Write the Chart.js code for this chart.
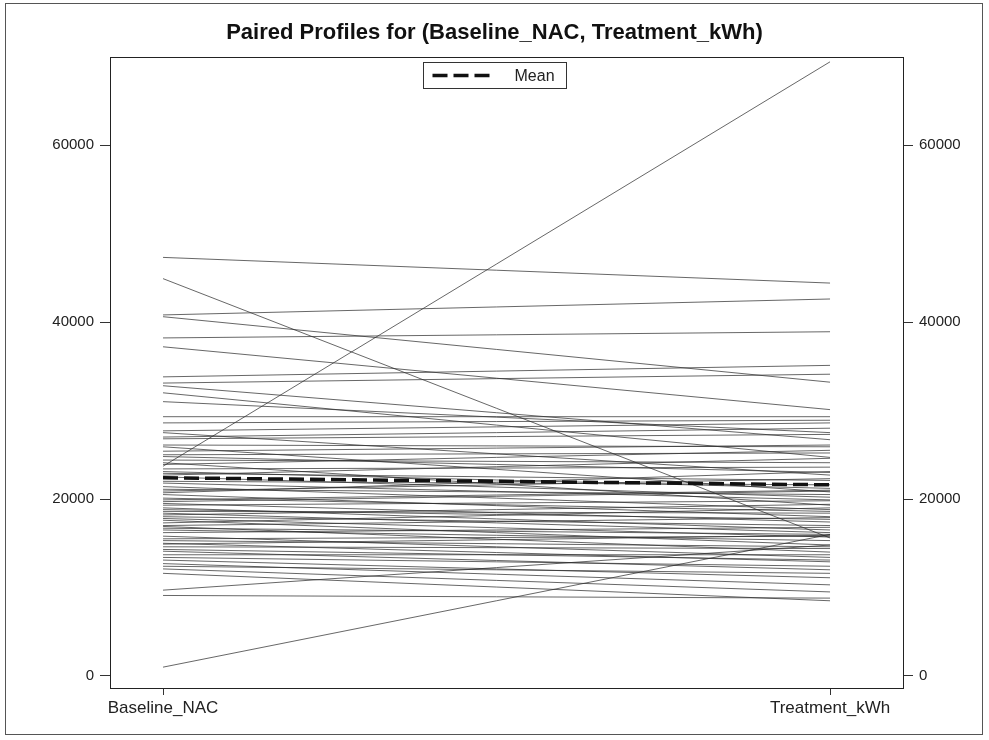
<!DOCTYPE html>
<html>
<head>
<meta charset="utf-8">
<title>Paired Profiles</title>
<script src="https://cdn.jsdelivr.net/npm/chart.js@4.4.1/dist/chart.umd.min.js"></script>
<style>
  html, body { margin: 0; padding: 0; background: #ffffff; }
  #wrap { width: 989px; height: 740px; }
</style>
</head>
<body>
<div id="wrap"><canvas id="c" width="989" height="740"></canvas></div>
<script>
// Paired profile categories (x positions 0 and 1)
const categories = ['Baseline_NAC', 'Treatment_kWh'];

// One subject per index: value at baseline and at treatment
const baselineValues = [
  47300, 44900, 40800, 40600, 38200, 37200, 33800, 33100, 32800, 32000,
  31000, 29300, 28600, 27700, 27500, 27000, 26100, 25900, 25400, 25000,
  24400, 24100, 23700, 23400, 22900, 22500, 22000, 21400, 20900, 20500,
  19900, 19500, 19300, 19000, 18600, 18400, 18000, 17600, 17300, 16900,
  16500, 16200, 15800, 15500, 15000, 14600, 14100, 13700, 13100, 12700,
  12100, 9700, 9100, 1000, 11600,
  26800, 24800, 23900, 23100, 22700, 21800, 21100, 20700, 20100, 19700,
  18800, 18200, 17800, 17000, 16700, 15300, 14900, 14300, 13400, 12400
];
const treatmentValues = [
  44400, 15600, 42600, 33200, 38900, 30100, 35100, 34100, 26700, 24700,
  27500, 29300, 28900, 28600, 22700, 28000, 25900, 20800, 26100, 25200,
  24100, 19300, 69400, 23600, 22100, 20200, 21600, 18800, 22300, 18000,
  21000, 17400, 19800, 16500, 18400, 16200, 17000, 14800, 19000, 14000,
  15300, 16800, 13400, 15800, 12900, 14400, 12000, 13700, 11100, 10300,
  9500, 14800, 8800, 16000, 8500,
  27300, 23000, 25500, 21200, 24600, 19900, 20500, 23100, 18600, 20900,
  17700, 19400, 15700, 17900, 16000, 14600, 15900, 13100, 12400, 11600
];

// Group means at baseline and treatment
const meanValues = [22400, 21600];

// Tick values shared by the left and right value axes
const yTicks = [0, 20000, 40000, 60000];

const FONT = '"Liberation Sans", Arial, sans-serif';

const datasets = [];
datasets.push({
  label: 'Mean',
  data: categories.map((c, i) => ({ x: i, y: meanValues[i] })),
  borderColor: '#111111',
  borderWidth: 3.5,
  borderDash: [15, 6],
  pointRadius: 0,
  fill: false
});
baselineValues.forEach((b, i) => {
  datasets.push({
    label: 'Subject ' + (i + 1),
    data: [{ x: 0, y: b }, { x: 1, y: treatmentValues[i] }],
    borderColor: 'rgba(45,45,45,0.72)',
    borderWidth: 1,
    pointRadius: 0,
    fill: false
  });
});

// Outer frame, plot box and the boxed "Mean" legend
const decorations = {
  id: 'decorations',
  beforeDraw(chart) {
    const ctx = chart.ctx;
    ctx.save();
    ctx.fillStyle = '#ffffff';
    ctx.fillRect(0, 0, chart.width, chart.height);
    ctx.restore();
  },
  afterDraw(chart) {
    const ctx = chart.ctx;
    const a = chart.chartArea;
    ctx.save();
    ctx.strokeStyle = '#555555';
    ctx.lineWidth = 1;
    ctx.strokeRect(5.5, 3.5, 977, 731);
    ctx.strokeStyle = '#222222';
    ctx.strokeRect(Math.round(a.left) + 0.5, Math.round(a.top) + 0.5,
                   Math.round(a.right - a.left), Math.round(a.bottom - a.top));

    // legend box centred at the top of the plot area
    const bw = 143, bh = 26;
    const bx = Math.round((a.left + a.right) / 2 - bw / 2 - 12) + 0.5;
    const by = Math.round(a.top + 5) + 0.5;
    ctx.fillStyle = '#ffffff';
    ctx.fillRect(bx, by, bw, bh);
    ctx.strokeStyle = '#333333';
    ctx.strokeRect(bx, by, bw, bh);
    ctx.beginPath();
    ctx.setLineDash([15, 6]);
    ctx.lineWidth = 3.5;
    ctx.strokeStyle = '#111111';
    ctx.moveTo(bx + 9, by + bh / 2);
    ctx.lineTo(bx + 72, by + bh / 2);
    ctx.stroke();
    ctx.setLineDash([]);
    ctx.fillStyle = '#222222';
    ctx.font = '16px ' + FONT;
    ctx.textBaseline = 'middle';
    ctx.textAlign = 'left';
    ctx.fillText('Mean', bx + 91, by + bh / 2 + 1);
    ctx.restore();
  }
};

const yRange = { min: -1356, max: 69944 };

function valueAxis(position, width) {
  return {
    type: 'linear',
    position: position,
    min: yRange.min,
    max: yRange.max,
    afterBuildTicks(scale) { scale.ticks = yTicks.map(v => ({ value: v })); },
    afterFit(scale) { scale.width = width; },
    ticks: {
      callback: v => String(v),
      color: '#222222',
      font: { family: FONT, size: 15 },
      padding: 6
    },
    grid: { drawOnChartArea: false, tickLength: 10, color: '#333333', tickWidth: 1 },
    border: { display: true, color: '#222222' }
  };
}

new Chart(document.getElementById('c'), {
  type: 'line',
  data: { datasets },
  options: {
    responsive: false,
    animation: false,
    layout: { padding: 0 },
    plugins: {
      legend: { display: false },
      tooltip: { enabled: false },
      title: {
        display: true,
        text: 'Paired Profiles for (Baseline_NAC, Treatment_kWh)',
        color: '#111111',
        font: { family: FONT, size: 22, weight: 'bold' },
        padding: { top: 20, bottom: 10.6 }
      }
    },
    scales: {
      x: {
        type: 'linear',
        min: -0.0795,
        max: 1.1094,
        afterBuildTicks(scale) { scale.ticks = categories.map((c, i) => ({ value: i })); },
        afterFit(scale) { scale.height = 52; },
        ticks: {
          callback: v => categories[v],
          color: '#222222',
          font: { family: FONT, size: 17 },
          padding: 3,
          maxRotation: 0,
          autoSkip: false
        },
        grid: { drawOnChartArea: false, tickLength: 7, color: '#333333' },
        border: { display: true, color: '#222222' }
      },
      y: valueAxis('left', 110),
      y2: valueAxis('right', 86)
    }
  },
  plugins: [decorations]
});
</script>
</body>
</html>
